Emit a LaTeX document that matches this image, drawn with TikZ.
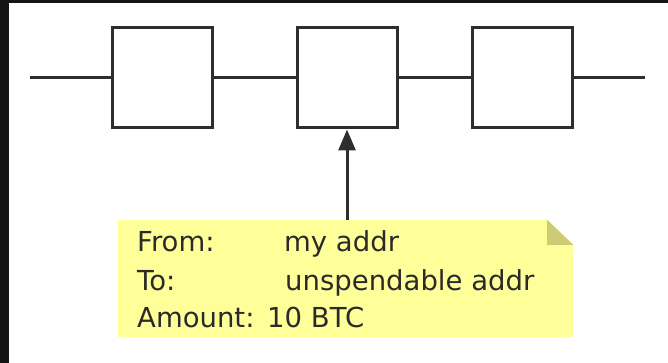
\documentclass[tikz,border=0pt]{standalone}
\usepackage{fontspec}
\setmainfont{DejaVu Sans}
\usetikzlibrary{arrows.meta}
\definecolor{ink}{HTML}{2E2E2E}
\definecolor{txt}{HTML}{2A2A2A}
\definecolor{notefill}{HTML}{FFFF99}
\definecolor{foldfill}{HTML}{CCCC77}
\definecolor{frame}{HTML}{141414}
\tikzset{
  blockbox/.style={draw=ink, line width=3pt, minimum width=100pt, minimum height=100pt, inner sep=0pt},
  chain/.style={draw=ink, line width=3pt},
  notetext/.style={anchor=base west, inner sep=0pt, text=txt, font=\fontsize{27.5}{32}\selectfont},
}
\begin{document}
\begin{tikzpicture}[x=1pt,y=-1pt]
\useasboundingbox (0,0) rectangle (668,363);
\fill[white] (0,0) rectangle (668,363);
% screenshot frame
\fill[frame] (0,0) rectangle (668,3.5);
\fill[frame] (0,0) rectangle (8.5,363);
% blocks
\node[blockbox] (b1) at (162,78) {};
\node[blockbox] (b2) at (347,78) {};
\node[blockbox] (b3) at (522,78) {};
\coordinate (L) at (30,78);
\coordinate (R) at (645,78);
\draw[chain] (L) -- (b1.west);
\draw[chain] (b1.east) -- (b2.west);
\draw[chain] (b2.east) -- (b3.west);
\draw[chain] (b3.east) -- (R);
% note
\node[minimum width=455pt, minimum height=117pt, inner sep=0pt] (note) at (345.5,278.5) {};
\fill[notefill] (note.north west) -- ([xshift=-26pt]note.north east) -- ([yshift=-25pt]note.north east) -- (note.south east) -- (note.south west) -- cycle;
\fill[foldfill] ([xshift=-26pt]note.north east) -- ([yshift=-25pt]note.north east) -- ([xshift=-26pt,yshift=-25pt]note.north east) -- cycle;
\draw[chain, -{Triangle[length=21pt,width=17pt]}] (note.north -| b2.south) -- (b2.south);
% text
\node[notetext] (f1) at (137,251) {From:};
\node[notetext] (f2) at (284,251) {my addr};
\node[notetext] (t1) at (137,290) {To:};
\node[notetext] (t2) at (285,290) {unspendable addr};
\node[notetext] (a1) at (137,327) {Amount:};
\node[notetext] (a2) at (267,327) {10 BTC};
\end{tikzpicture}
\end{document}
